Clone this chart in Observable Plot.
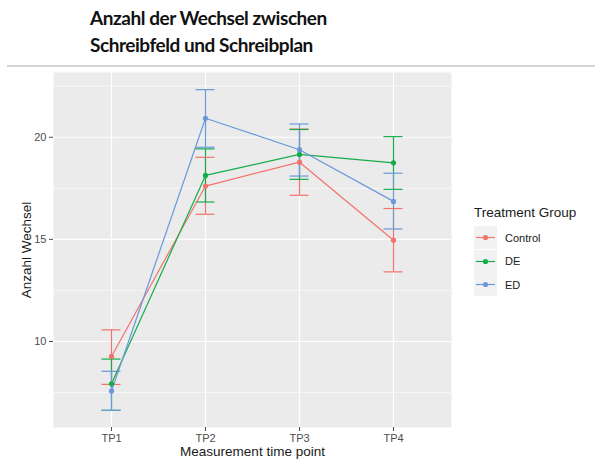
<!DOCTYPE html>
<html>
<head>
<meta charset="utf-8">
<script src="https://cdn.jsdelivr.net/npm/d3@7"></script>
<script src="https://cdn.jsdelivr.net/npm/@observablehq/plot@0.6"></script>
<style>
  html, body { margin: 0; padding: 0; background: #fff; }
  #wrap { position: relative; width: 595px; height: 462px; overflow: hidden; font-family: "Liberation Sans", Arial, sans-serif; }
  #title { position: absolute; left: 90px; top: 5px; font-family: Lato, "Open Sans", sans-serif; font-weight: bold; font-size: 19px; letter-spacing: -0.45px; line-height: 26.5px; color: #111; }
  #rule { position: absolute; left: 7px; right: 0; top: 65px; height: 0; border-top: 2px solid #d4d4d4; }
  #chart { position: absolute; left: 0; top: 66px; }
  #legend { position: absolute; left: 474px; top: 205px; color: #1a1a1a; }
  #legend .lt { font-size: 13.5px; margin-bottom: 6px; }
  #legend .row { display: flex; align-items: center; height: 23.5px; }
  #legend .row span { font-size: 11px; margin-left: 8px; }
</style>
</head>
<body>
<div id="wrap">
  <div id="title">Anzahl der Wechsel zwischen<br>Schreibfeld und Schreibplan</div>
  <div id="rule"></div>
  <div id="chart"></div>
  <div id="legend"></div>
</div>
<script>
const timepoints = ["TP1", "TP2", "TP3", "TP4"];
const groups = ["Control", "DE", "ED"];
const colors = ["#f2736d", "#15ad4b", "#6a98da"];

const meanControl = [9.27, 17.61, 18.78, 14.96];
const loControl   = [7.90, 16.23, 17.16, 13.41];
const hiControl   = [10.57, 19.02, 20.40, 16.51];

const meanDE = [7.93, 18.13, 19.16, 18.75];
const loDE   = [6.63, 16.83, 17.94, 17.45];
const hiDE   = [9.14, 19.43, 20.38, 20.03];

const meanED = [7.58, 20.93, 19.39, 16.86];
const loED   = [6.63, 19.51, 18.10, 15.51];
const hiED   = [8.54, 22.33, 20.65, 18.24];

const yTicks = [10, 15, 20];
const yMinor = [7.5, 12.5, 17.5, 22.5];

const series = [
  {group: "Control", mean: meanControl, lo: loControl, hi: hiControl},
  {group: "DE", mean: meanDE, lo: loDE, hi: hiDE},
  {group: "ED", mean: meanED, lo: loED, hi: hiED}
];
const data = series.flatMap(s => timepoints.map((tp, i) => ({group: s.group, tp, mean: s.mean[i], lo: s.lo[i], hi: s.hi[i]})));

const plot = Plot.plot({
  width: 595,
  height: 396,
  marginTop: 6,
  marginLeft: 53,
  marginRight: 144,
  marginBottom: 35,
  style: {fontFamily: "'Liberation Sans', Arial, sans-serif", background: "transparent"},
  x: {type: "point", domain: timepoints, padding: 0.6, label: null},
  y: {domain: [5.79, 23.17], label: null},
  color: {domain: groups, range: colors},
  marks: [
    Plot.frame({fill: "#ebebeb", stroke: null}),
    Plot.ruleY(yMinor, {stroke: "white", strokeWidth: 0.6}),
    Plot.ruleY(yTicks, {stroke: "white", strokeWidth: 1.2}),
    Plot.ruleX(timepoints, {stroke: "white", strokeWidth: 1.2}),
    Plot.axisY({ticks: yTicks, tickSize: 4, tickPadding: 3, fontSize: 11, color: "#4d4d4d", label: null}),
    Plot.axisX({tickSize: 4, tickPadding: 3, fontSize: 11, color: "#4d4d4d", label: null}),
    Plot.ruleX(data, {x: "tp", y1: "lo", y2: "hi", stroke: "group", strokeWidth: 1.2}),
    Plot.ruleY(data, {x1: "tp", x2: "tp", y: "lo", stroke: "group", strokeWidth: 1.2, insetLeft: -9.5, insetRight: -9.5}),
    Plot.ruleY(data, {x1: "tp", x2: "tp", y: "hi", stroke: "group", strokeWidth: 1.2, insetLeft: -9.5, insetRight: -9.5}),
    Plot.line(data, {x: "tp", y: "mean", z: "group", stroke: "group", strokeWidth: 1.2}),
    Plot.dot(data, {x: "tp", y: "mean", fill: "group", r: 2.6}),
    Plot.text(["Anzahl Wechsel"], {frameAnchor: "left", rotate: -90, dx: -27, fontSize: 13.5, fill: "#1a1a1a", textAnchor: "middle"}),
    Plot.text(["Measurement time point"], {frameAnchor: "bottom", dy: 28, fontSize: 13.5, fill: "#1a1a1a", textAnchor: "middle"})
  ]
});
document.getElementById("chart").appendChild(plot);

const legend = document.getElementById("legend");
legend.innerHTML = `<div class="lt">Treatment Group</div>` + groups.map((g, i) =>
  `<div class="row"><svg width="23" height="23"><rect width="23" height="23" fill="#f2f2f2"/><line x1="2" x2="21" y1="11.5" y2="11.5" stroke="${colors[i]}" stroke-width="1.2"/><circle cx="11.5" cy="11.5" r="2.6" fill="${colors[i]}"/></svg><span>${g}</span></div>`
).join("");
</script>
</body>
</html>
